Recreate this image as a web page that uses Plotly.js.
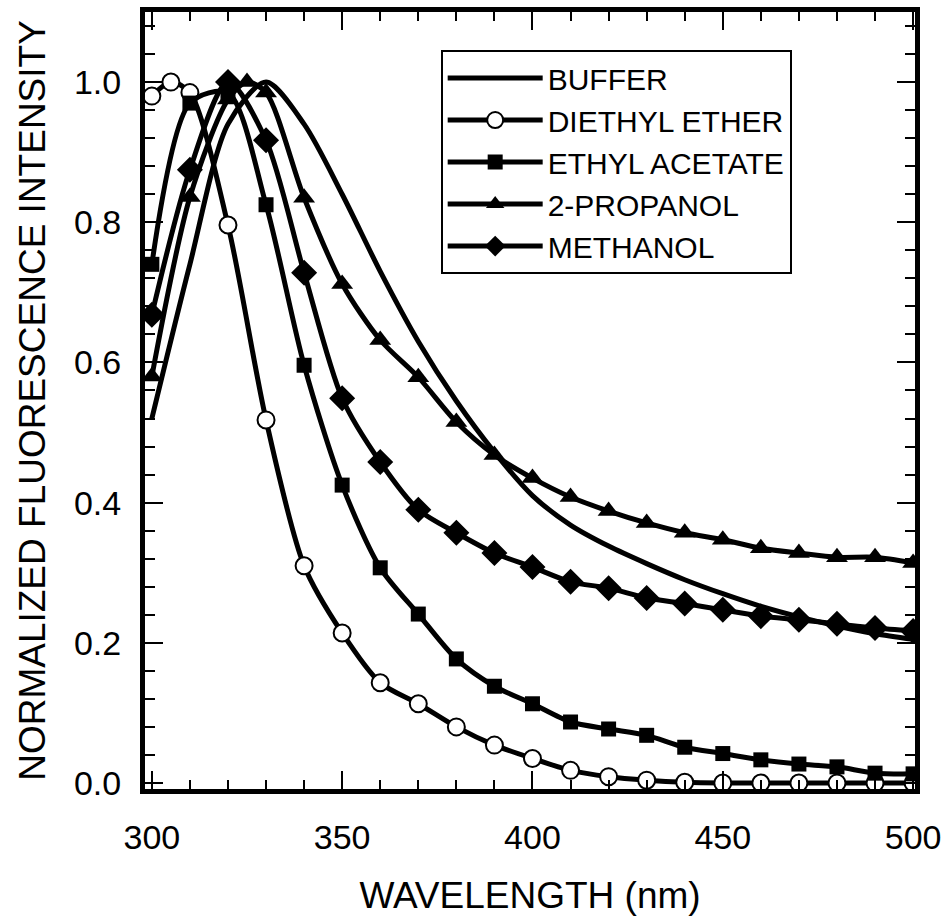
<!DOCTYPE html>
<html>
<head>
<meta charset="utf-8">
<script src="https://cdn.plot.ly/plotly-3.0.1.min.js"></script>
<style>html,body{margin:0;padding:0;background:#fff;}#chart{width:947px;height:916px;}</style>
</head>
<body>
<div id="chart"></div>
<script>
// Data
const bufferX = [300,310,320,330,340,350,360,370,380,390,400,410,420,430,440,450,460,470,480,490,500];
const bufferY = [0.52,0.74,0.94,1.0,0.94,0.84,0.73,0.63,0.545,0.472,0.41,0.368,0.338,0.313,0.29,0.27,0.252,0.237,0.224,0.213,0.205];

const etherX = [300,305,310,320,330,340,350,360,370,380,390,400,410,420,430,440,450,460,470,480,490,500];
const etherY = [0.98,1.0,0.985,0.796,0.518,0.31,0.214,0.143,0.113,0.08,0.054,0.035,0.018,0.009,0.004,0.001,0.0,0.0,0.0,0.0,0.0,0.0];

const acetateX = [300,310,320,330,340,350,360,370,380,390,400,410,420,430,440,450,460,470,480,490,500];
const acetateY = [0.74,0.97,0.985,0.825,0.596,0.425,0.307,0.241,0.177,0.138,0.113,0.087,0.077,0.068,0.051,0.042,0.033,0.027,0.023,0.014,0.013];

const propanolX = [300,310,320,325,330,340,350,360,370,380,390,400,410,420,430,440,450,460,470,480,490,500];
const propanolY = [0.58,0.836,0.975,1.0,0.985,0.835,0.712,0.632,0.579,0.515,0.468,0.435,0.408,0.388,0.371,0.357,0.347,0.335,0.328,0.322,0.322,0.314];

const methanolX = [300,310,320,330,340,350,360,370,380,390,400,410,420,430,440,450,460,470,480,490,500];
const methanolY = [0.668,0.875,1.0,0.917,0.728,0.549,0.458,0.39,0.357,0.328,0.308,0.287,0.278,0.264,0.256,0.247,0.238,0.233,0.227,0.221,0.217];

const seriesNames = ["BUFFER","DIETHYL ETHER","ETHYL ACETATE","2-PROPANOL","METHANOL"];
const xTickVals = [300,350,400,450,500];
const yTickVals = [0.0,0.2,0.4,0.6,0.8,1.0];

const FONT = "Liberation Sans, Arial, Helvetica, sans-serif";
const lineStyle = {color:"#000", width:5, shape:"spline", smoothing:0.8};

const traces = [
  {x:bufferX, y:bufferY, name:seriesNames[0], mode:"lines", line:lineStyle},
  {x:etherX, y:etherY, name:seriesNames[1], mode:"lines+markers", line:lineStyle,
   marker:{symbol:"circle", size:17, color:"#fff", line:{color:"#000", width:2}}},
  {x:acetateX, y:acetateY, name:seriesNames[2], mode:"lines+markers", line:lineStyle,
   marker:{symbol:"square", size:15, color:"#000"}},
  {x:propanolX, y:propanolY, name:seriesNames[3], mode:"lines+markers", line:lineStyle,
   marker:{symbol:"triangle-up", size:19, color:"#000"}},
  {x:methanolX, y:methanolY, name:seriesNames[4], mode:"lines+markers", line:lineStyle,
   marker:{symbol:"diamond", size:20, color:"#000"}}
];

const layout = {
  width:947, height:916,
  margin:{l:145, r:32, t:12, b:127},
  paper_bgcolor:"#fff", plot_bgcolor:"#fff",
  font:{family:FONT, color:"#000"},
  showlegend:true,
  legend:{x:0.384, y:0.951, xanchor:"left", yanchor:"top",
    bgcolor:"#fff", bordercolor:"#000", borderwidth:2,
    font:{family:FONT, size:30, color:"#000"}, itemwidth:95, tracegroupgap:0},
  xaxis:{
    range:[298.2, 500.5], tickvals:xTickVals, ticktext:xTickVals.map(String),
    showgrid:false, zeroline:false, showline:true, linecolor:"#000", linewidth:5,
    mirror:"allticks", ticks:"inside", ticklen:18, tickwidth:2, tickcolor:"#000",
    minor:{dtick:10, tick0:300, ticks:"inside", ticklen:9, tickwidth:2, tickcolor:"#000"},
    tickfont:{family:FONT, size:34, color:"#000"}, ticklabelstandoff:14,
    title:{text:"WAVELENGTH (nm)", font:{family:FONT, size:37, color:"#000"}, standoff:34}
  },
  yaxis:{
    range:[-0.0086, 1.1], tickvals:yTickVals, ticktext:yTickVals.map(v=>v.toFixed(1)),
    showgrid:false, zeroline:false, showline:true, linecolor:"#000", linewidth:5,
    mirror:"allticks", ticks:"inside", ticklen:18, tickwidth:2, tickcolor:"#000",
    minor:{dtick:0.04, tick0:0, ticks:"inside", ticklen:10, tickwidth:2, tickcolor:"#000"},
    tickfont:{family:FONT, size:34, color:"#000"}, ticklabelstandoff:12,
    title:{text:"NORMALIZED FLUORESCENCE INTENSITY", font:{family:FONT, size:37, color:"#000"}, standoff:18}
  }
};

Plotly.newPlot("chart", traces, layout, {displayModeBar:false, staticPlot:true});
</script>
</body>
</html>
